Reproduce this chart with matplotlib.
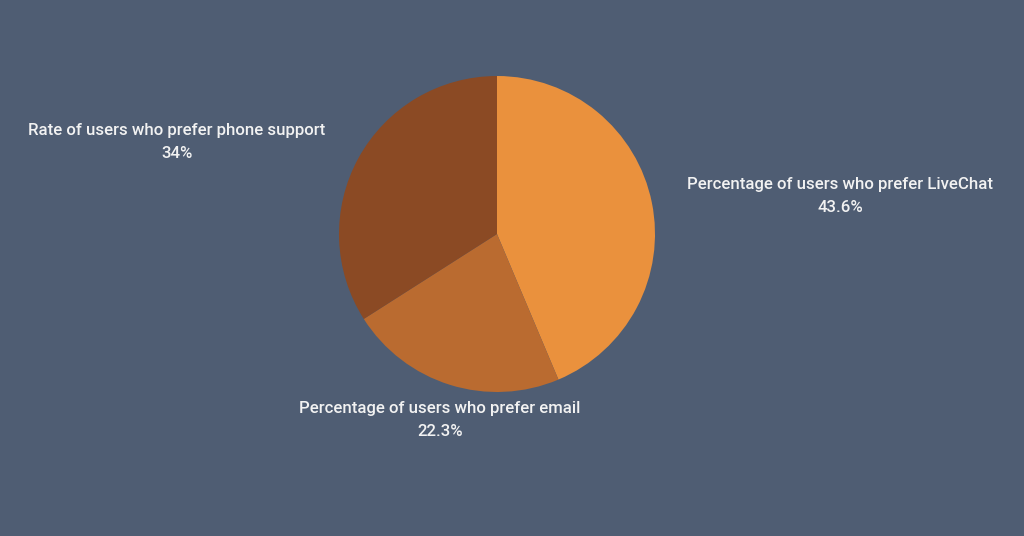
import matplotlib
matplotlib.use("Agg")
import matplotlib.pyplot as plt

labels = ["Percentage of users who prefer LiveChat",
          "Percentage of users who prefer email",
          "Rate of users who prefer phone support"]
values = [43.6, 22.3, 34.0]
value_text = ["43.6%", "22.3%", "34%"]
colors = ["#EA913D", "#BA6B30", "#8B4A24"]
bg = "#4F5D73"

W, H = 1024, 536
fig = plt.figure(figsize=(W / 100, H / 100), dpi=100)
fig.patch.set_facecolor(bg)
ax = fig.add_axes([0, 0, 1, 1])
ax.set_facecolor(bg)

cx, cy, r = 497, H - 234, 158
ax.pie(values, colors=colors, startangle=90, counterclock=False,
       center=(cx, cy), radius=r, frame=True,
       wedgeprops=dict(linewidth=0))
ax.set_xlim(0, W)
ax.set_ylim(0, H)
ax.set_aspect("equal")
ax.axis("off")

label_pos = [(840, 185), (440, 408), (177, 130)]
for lab, vt, (x, y) in zip(labels, value_text, label_pos):
    ax.text(x, H - y, lab, ha="center", va="center", color="#F2F2F2",
            fontsize=12.1, fontfamily="Roboto", fontweight="medium")
    ax.text(x, H - y - 23, vt, ha="center", va="center", color="#F2F2F2",
            fontsize=12.1, fontfamily="Roboto", fontweight="medium")

fig.savefig("out.png", dpi=100, facecolor=bg)
